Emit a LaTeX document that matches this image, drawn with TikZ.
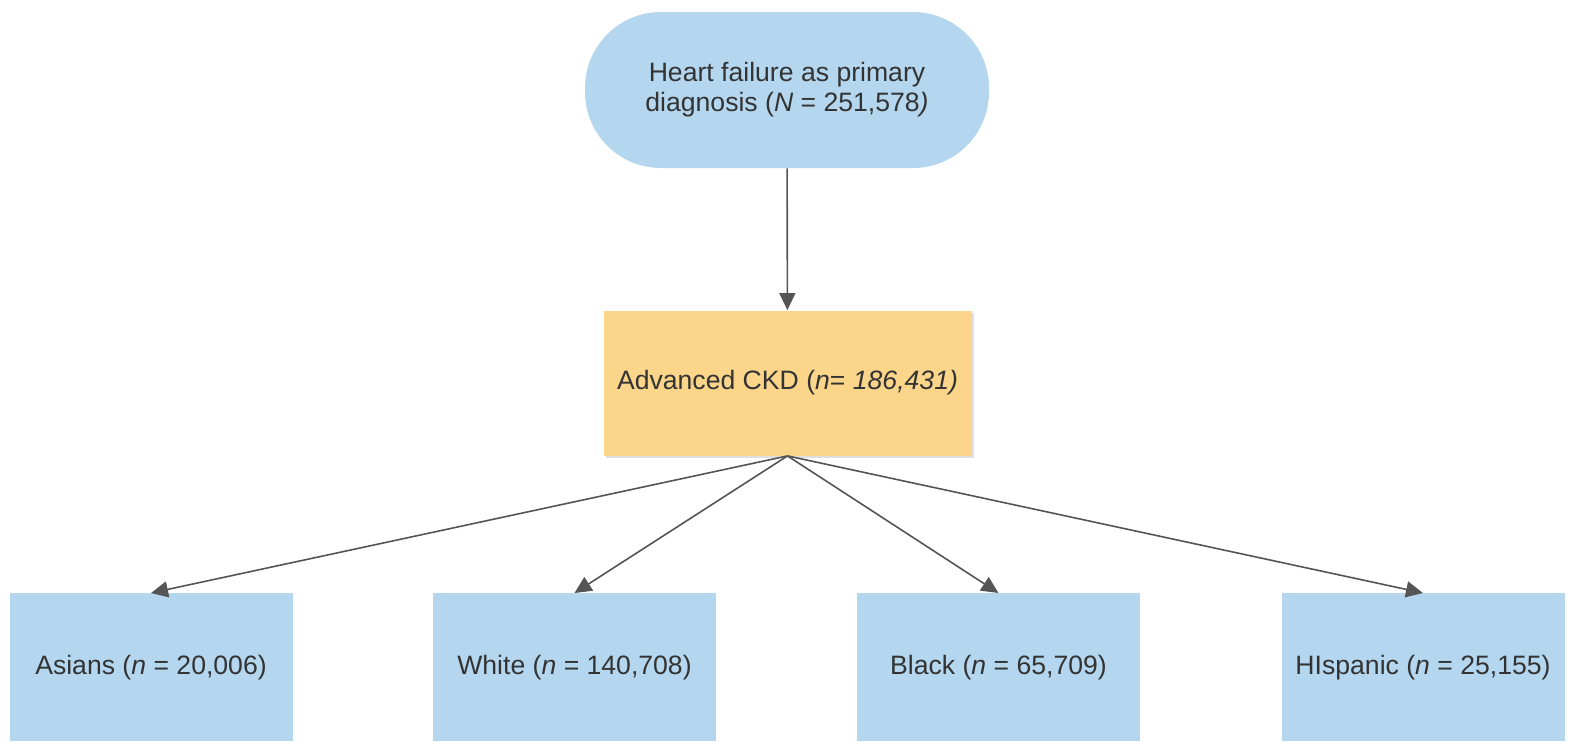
\documentclass[tikz,border=0pt]{standalone}
\usepackage{fontspec}
\setmainfont{Liberation Sans}
\usetikzlibrary{shadows,arrows.meta}
\definecolor{boxblue}{HTML}{B4D7EF}
\definecolor{boxorange}{HTML}{FAD58A}
\definecolor{txtgray}{HTML}{333333}
\definecolor{linegray}{HTML}{555555}
\tikzset{
  cohort/.style={fill=boxblue,rounded corners=38pt,minimum width=202pt,minimum height=78pt,align=center,text=txtgray,font=\fontsize{13.3}{15}\selectfont},
  ckd/.style={fill=boxorange,drop shadow={opacity=0.25,shadow xshift=1pt,shadow yshift=-1pt},minimum width=184pt,minimum height=72.5pt,text=txtgray,font=\fontsize{13.3}{15}\selectfont},
  group/.style={fill=boxblue,anchor=north,minimum width=141.5pt,minimum height=74pt,text=txtgray,font=\fontsize{13.3}{15}\selectfont},
  flow/.style={draw=linegray,line width=0.8pt,-{Triangle[length=8.5pt,width=8pt]}}
}
\begin{document}
\begin{tikzpicture}[x=0.5pt,y=-0.5pt]
      \useasboundingbox (0,0) rectangle (1585,741);
      \node[cohort] (hf) at (787,90) {Heart failure as primary\\diagnosis (\textit{N} = 251,578\textit{)}};
      \node[ckd] (ckd) at (787.5,383) {Advanced CKD (\textit{n}= \textit{186,431)}};
      \node[group] (asian) at (151,593) {Asians (\textit{n} = 20,006)};
      \node[group] (white) at (574.5,593) {White (\textit{n} = 140,708)};
      \node[group] (black) at (998.5,593) {Black (\textit{n} = 65,709)};
      \node[group] (hispanic) at (1423,593) {HIspanic (\textit{n} = 25,155)};

      \draw[flow] (hf) -- (ckd);
      \draw[flow] (ckd.south) -- (asian.north);
      \draw[flow] (ckd.south) -- (white.north);
      \draw[flow] (ckd.south) -- (black.north);
      \draw[flow] (ckd.south) -- (hispanic.north);
\end{tikzpicture}
\end{document}
